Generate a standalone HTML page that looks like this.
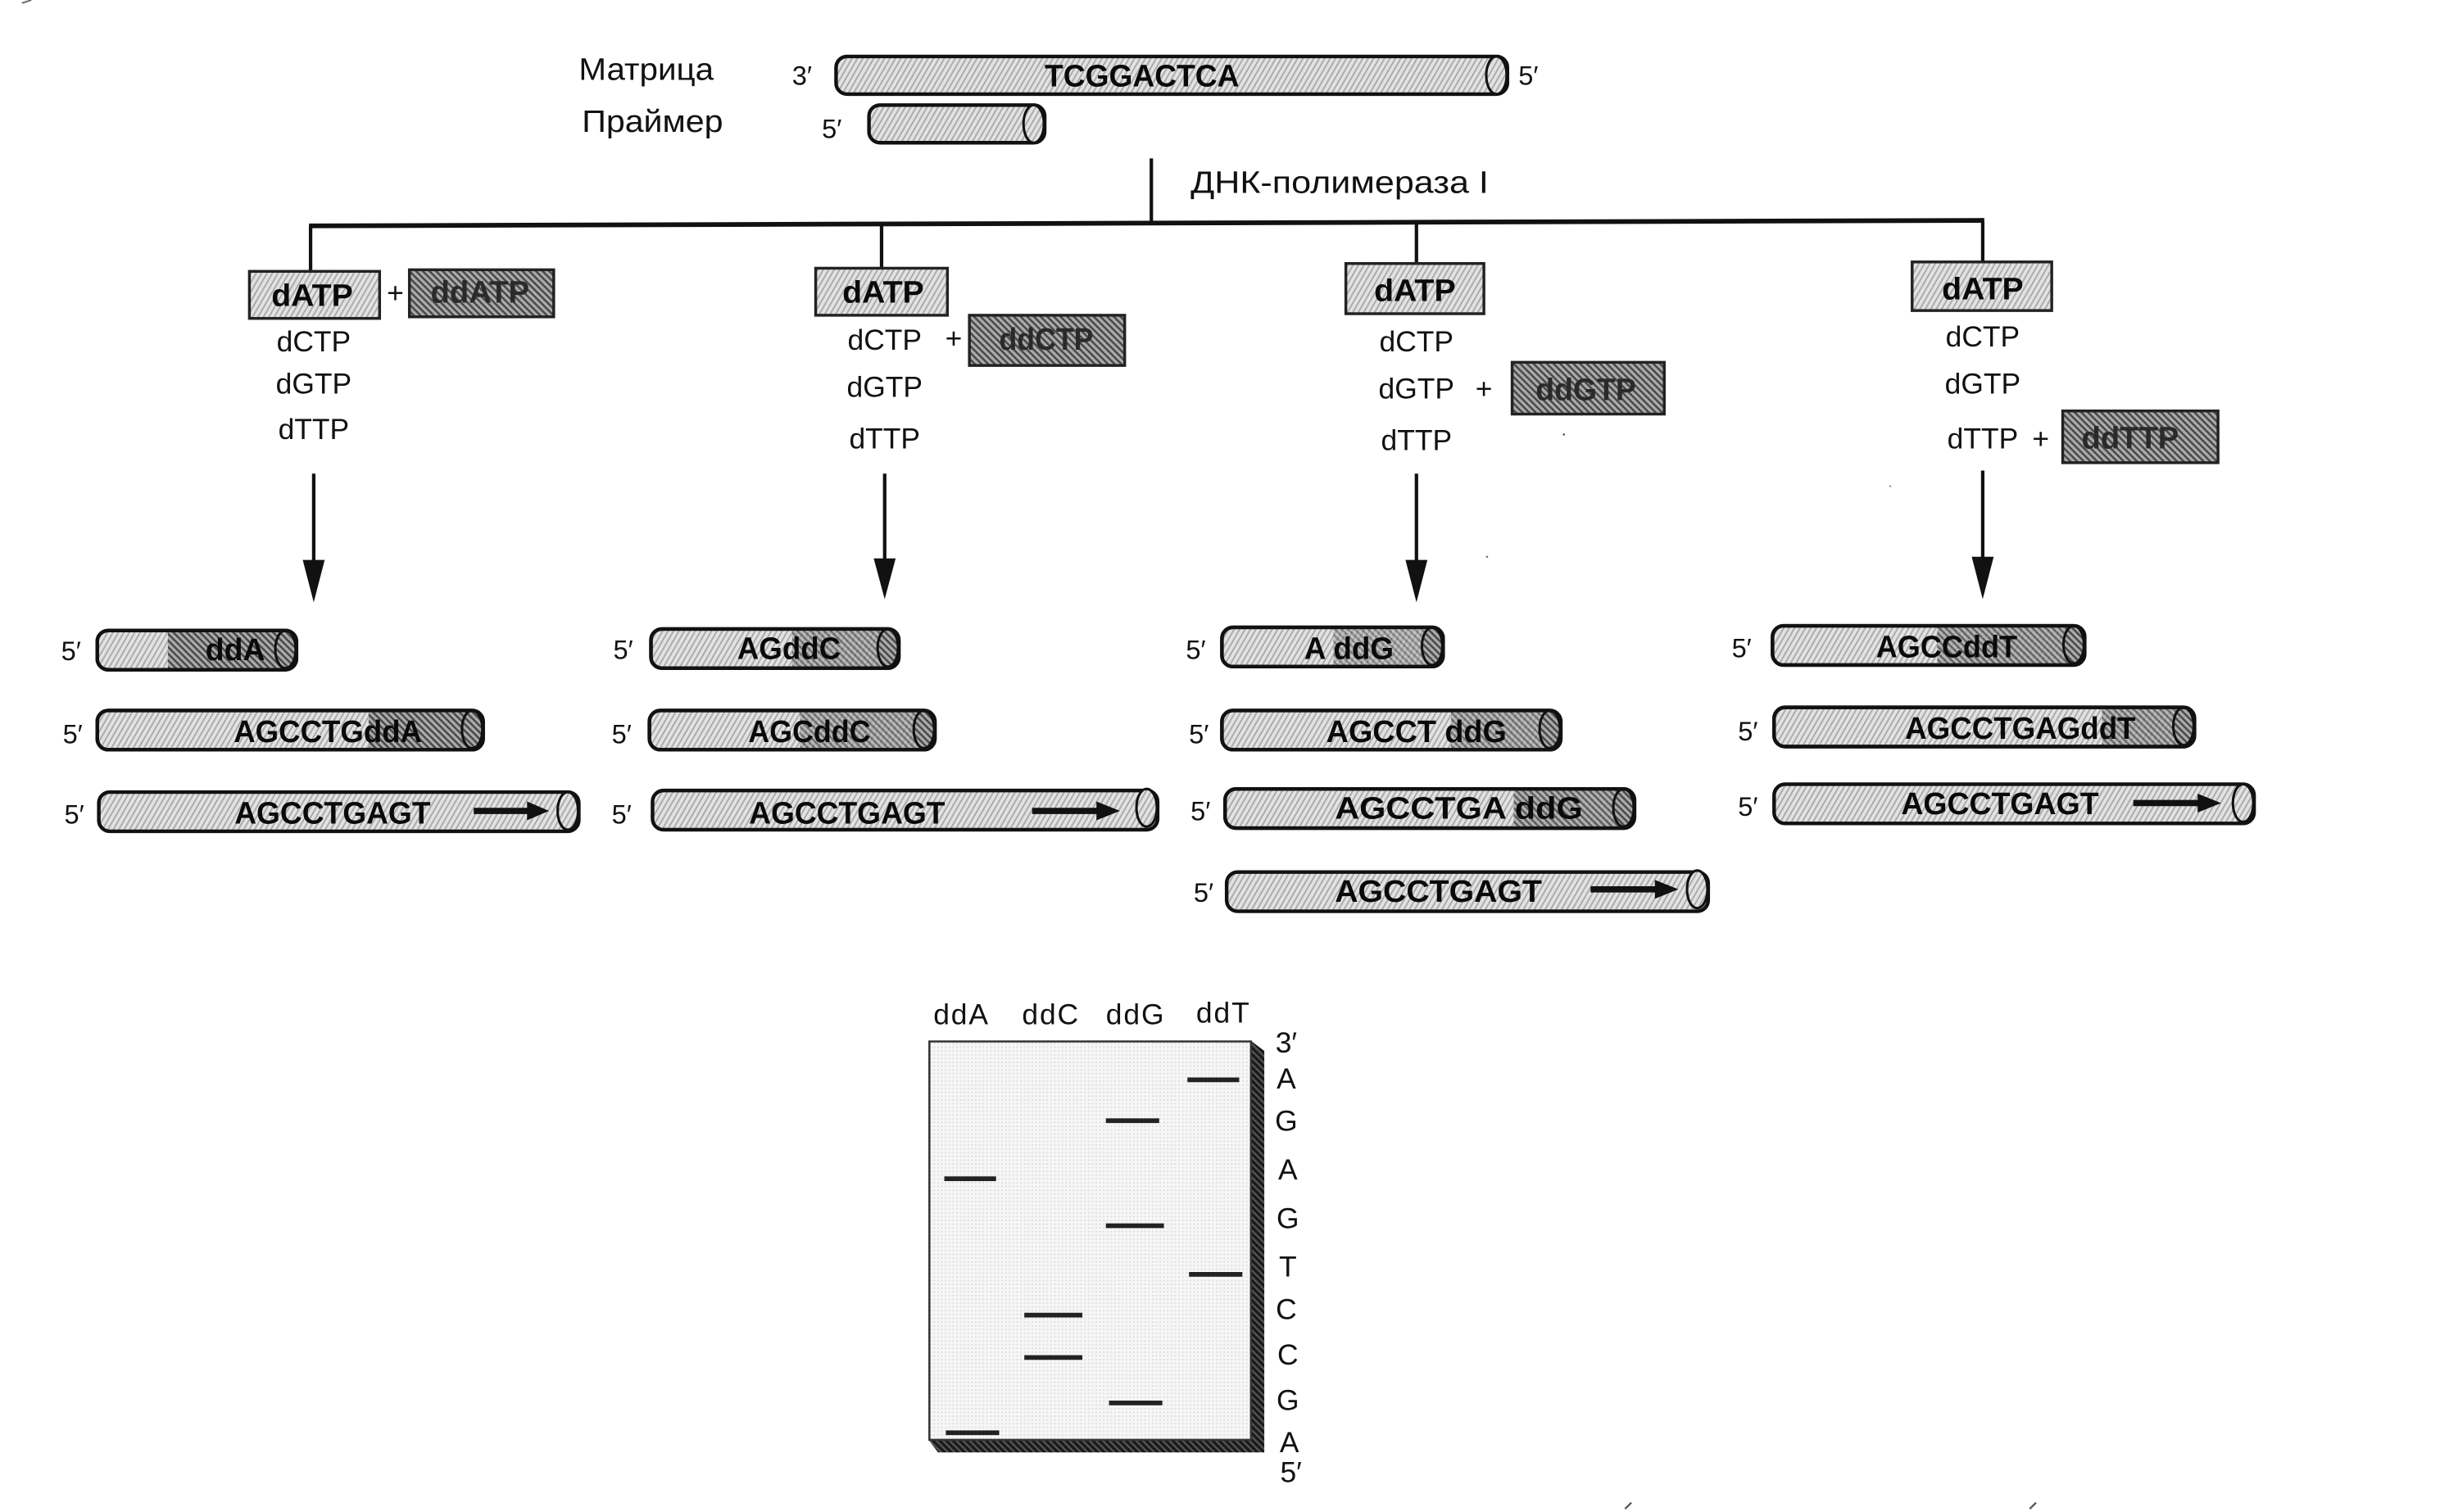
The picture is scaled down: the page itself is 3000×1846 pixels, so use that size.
<!DOCTYPE html>
<html><head><meta charset="utf-8"><style>
html,body{margin:0;padding:0;background:#fff}
svg{display:block;width:3000px;height:1846px}
text{font-family:"Liberation Sans",sans-serif;fill:#111}
.b{font-weight:bold;font-size:20px;text-anchor:middle;fill:#0a0a0a}
.dd{font-weight:bold;font-size:20px;text-anchor:middle;fill:#2a2a2a}
.r{font-size:18.5px;text-anchor:middle}
.l{font-size:20px}
.p{font-size:17px}
.c{fill:url(#lt);stroke:#111;stroke-width:2.3;transform:translateY(-1px)}
.e{fill:url(#lt);stroke:#111;stroke-width:1.6;transform:translateY(-1px)}
.ed{fill:url(#dk);stroke:#111;stroke-width:1.6;transform:translateY(-1px)}
.d{fill:url(#dk);transform:translateY(-1px)}
.o{fill:none;stroke:#111;stroke-width:2.3;transform:translateY(-1px)}
.ln{stroke:#111;stroke-width:2.2;fill:none}
.bx{fill:url(#lt);stroke:#222;stroke-width:1.8}
.dx{fill:url(#dk);stroke:#222;stroke-width:1.8}
.bd{stroke:#222;stroke-width:3}
</style></head><body>
<svg viewBox="0 0 1567 964" xmlns="http://www.w3.org/2000/svg" preserveAspectRatio="none">
<defs>
<pattern id="lt" width="3" height="3" patternUnits="userSpaceOnUse" patternTransform="rotate(-60)"><rect width="3" height="3" fill="#e2e2e2"/><rect width="3" height="1" fill="#aaa"/></pattern>
<pattern id="dk" width="3" height="3" patternUnits="userSpaceOnUse" patternTransform="rotate(45)"><rect width="3" height="3" fill="#aaa"/><rect width="3" height="1.3" fill="#484848"/></pattern>
<pattern id="gel" width="2.4" height="2.4" patternUnits="userSpaceOnUse"><rect width="2.4" height="2.4" fill="#f6f6f6"/><rect width=".9" height=".9" fill="#d8d8d8"/></pattern>
<pattern id="sh" width="3" height="3" patternUnits="userSpaceOnUse" patternTransform="rotate(45)"><rect width="3" height="3" fill="#555"/><rect width="3" height="1.8" fill="#1a1a1a"/></pattern>
</defs>
<rect width="1567" height="964" fill="#fff"/>
<line x1="14" y1="2" x2="20" y2="0" stroke="#666" stroke-width="1"/>
<circle cx="997" cy="277" r=".7" fill="#555"/><circle cx="948" cy="355" r=".7" fill="#777"/><circle cx="1205" cy="310" r=".6" fill="#888"/>

<!-- top -->
<text class="l" x="369" y="51" textLength="86" lengthAdjust="spacingAndGlyphs">Матрица</text>
<text class="l" x="371" y="84" textLength="90" lengthAdjust="spacingAndGlyphs">Праймер</text>
<text class="p" x="505" y="54">3′</text>
<rect class="c" x="533" y="37" width="428" height="24" rx="7"/><ellipse class="e" cx="954" cy="49" rx="6.5" ry="12"/>
<text class="b" x="728" y="55" textLength="124" lengthAdjust="spacingAndGlyphs">TCGGACTCA</text>
<text class="p" x="968" y="54">5′</text>
<text class="p" x="524" y="88">5′</text>
<rect class="c" x="554" y="68" width="112" height="24" rx="7"/><ellipse class="e" cx="659" cy="80" rx="6.5" ry="12"/>

<line class="ln" x1="734" y1="101" x2="734" y2="143"/>
<text class="l" x="759" y="123" textLength="190" lengthAdjust="spacingAndGlyphs">ДНК-полимераза I</text>
<line class="ln" style="stroke-width:3" x1="197" y1="144" x2="1265" y2="140.5"/>
<line class="ln" x1="198" y1="144" x2="198" y2="173"/>
<line class="ln" x1="562" y1="143" x2="562" y2="171"/>
<line class="ln" x1="903" y1="142" x2="903" y2="168"/>
<line class="ln" x1="1264" y1="141" x2="1264" y2="167"/>

<!-- boxes col 1 -->
<rect class="bx" x="159" y="173" width="83" height="30"/><text class="b" x="199" y="195" textLength="52" lengthAdjust="spacingAndGlyphs">dATP</text>
<text class="r" x="252" y="193">+</text>
<rect class="dx" x="261" y="172" width="92" height="30"/><text class="dd" x="306" y="193" textLength="63" lengthAdjust="spacingAndGlyphs">ddATP</text>
<text class="r" x="200" y="224">dCTP</text><text class="r" x="200" y="251">dGTP</text><text class="r" x="200" y="280">dTTP</text>

<!-- col 2 -->
<rect class="bx" x="520" y="171" width="84" height="30"/><text class="b" x="563" y="193" textLength="52" lengthAdjust="spacingAndGlyphs">dATP</text>
<text class="r" x="608" y="222">+</text>
<rect class="dx" x="618" y="201" width="99" height="32"/><text class="dd" x="667" y="223" textLength="60" lengthAdjust="spacingAndGlyphs">ddCTP</text>
<text class="r" x="564" y="223">dCTP</text><text class="r" x="564" y="253">dGTP</text><text class="r" x="564" y="286">dTTP</text>

<!-- col 3 -->
<rect class="bx" x="858" y="168" width="88" height="32"/><text class="b" x="902" y="192" textLength="52" lengthAdjust="spacingAndGlyphs">dATP</text>
<text class="r" x="946" y="254">+</text>
<rect class="dx" x="964" y="231" width="97" height="33"/><text class="dd" x="1011" y="255" textLength="64" lengthAdjust="spacingAndGlyphs">ddGTP</text>
<text class="r" x="903" y="224">dCTP</text><text class="r" x="903" y="254">dGTP</text><text class="r" x="903" y="287">dTTP</text>

<!-- col 4 -->
<rect class="bx" x="1219" y="167" width="89" height="31"/><text class="b" x="1264" y="191" textLength="52" lengthAdjust="spacingAndGlyphs">dATP</text>
<text class="r" x="1301" y="286">+</text>
<rect class="dx" x="1315" y="262" width="99" height="33"/><text class="dd" x="1358" y="286" textLength="62" lengthAdjust="spacingAndGlyphs">ddTTP</text>
<text class="r" x="1264" y="221">dCTP</text><text class="r" x="1264" y="251">dGTP</text><text class="r" x="1264" y="286">dTTP</text>

<!-- arrows -->
<line class="ln" x1="200" y1="302" x2="200" y2="362"/><polygon points="193,357 207,357 200,384" fill="#111"/>
<line class="ln" x1="564" y1="302" x2="564" y2="362"/><polygon points="557,356 571,356 564,382" fill="#111"/>
<line class="ln" x1="903" y1="302" x2="903" y2="362"/><polygon points="896,357 910,357 903,384" fill="#111"/>
<line class="ln" x1="1264" y1="300" x2="1264" y2="360"/><polygon points="1257,355 1271,355 1264,382" fill="#111"/>

<!-- column 1 strands -->
<text class="p" x="39" y="421">5′</text>
<rect class="c" x="62" y="403" width="127" height="25" rx="7"/><rect class="d" x="107" y="404" width="76" height="23"/><ellipse class="ed" cx="182" cy="415" rx="6.5" ry="12"/><rect class="o" x="62" y="403" width="127" height="25" rx="7"/>
<text class="b" x="150" y="421" textLength="38" lengthAdjust="spacingAndGlyphs">ddA</text>

<text class="p" x="40" y="474">5′</text>
<rect class="c" x="62" y="454" width="246" height="25" rx="7"/><rect class="d" x="235" y="455" width="67" height="23"/><ellipse class="ed" cx="301" cy="466" rx="6.5" ry="12"/><rect class="o" x="62" y="454" width="246" height="25" rx="7"/>
<text class="b" x="209" y="473" textLength="120" lengthAdjust="spacingAndGlyphs">AGCCTGddA</text>

<text class="p" x="41" y="525">5′</text>
<rect class="c" x="63" y="506" width="306" height="25" rx="7"/><ellipse class="e" cx="362" cy="518" rx="6.5" ry="12"/>
<text class="b" x="212" y="525" textLength="125" lengthAdjust="spacingAndGlyphs">AGCCTGAGT</text>
<line x1="302" y1="517" x2="338" y2="517" stroke="#111" stroke-width="4"/><polygon points="336,511 350,517 336,523" fill="#111"/>

<!-- column 2 strands -->
<text class="p" x="391" y="420">5′</text>
<rect class="c" x="415" y="402" width="158" height="25" rx="7"/><rect class="d" x="505" y="403" width="62" height="23" opacity=".7"/><ellipse class="ed" cx="566" cy="414" rx="6.5" ry="12"/><rect class="o" x="415" y="402" width="158" height="25" rx="7"/>
<text class="b" x="503" y="420" textLength="66" lengthAdjust="spacingAndGlyphs">AGddC</text>

<text class="p" x="390" y="474">5′</text>
<rect class="c" x="414" y="454" width="182" height="25" rx="7"/><rect class="d" x="510" y="455" width="80" height="23" opacity=".7"/><ellipse class="ed" cx="589" cy="466" rx="6.5" ry="12"/><rect class="o" x="414" y="454" width="182" height="25" rx="7"/>
<text class="b" x="516" y="473" textLength="78" lengthAdjust="spacingAndGlyphs">AGCddC</text>

<text class="p" x="390" y="525">5′</text>
<rect class="c" x="416" y="505" width="322" height="25" rx="7"/><ellipse class="e" cx="731" cy="516" rx="6.5" ry="12"/>
<text class="b" x="540" y="525" textLength="125" lengthAdjust="spacingAndGlyphs">AGCCTGAGT</text>
<line x1="658" y1="517" x2="701" y2="517" stroke="#111" stroke-width="4"/><polygon points="699,511 714,517 699,523" fill="#111"/>

<!-- column 3 strands -->
<text class="p" x="756" y="420">5′</text>
<rect class="c" x="779" y="401" width="141" height="25" rx="7"/><rect class="d" x="850" y="402" width="64" height="23" opacity=".55"/><ellipse class="ed" cx="913" cy="413" rx="6.5" ry="12"/><rect class="o" x="779" y="401" width="141" height="25" rx="7"/>
<text class="b" x="860" y="420" textLength="57" lengthAdjust="spacingAndGlyphs">A ddG</text>

<text class="p" x="758" y="474">5′</text>
<rect class="c" x="779" y="454" width="216" height="25" rx="7"/><rect class="d" x="925" y="455" width="64" height="23" opacity=".7"/><ellipse class="ed" cx="988" cy="466" rx="6.5" ry="12"/><rect class="o" x="779" y="454" width="216" height="25" rx="7"/>
<text class="b" x="903" y="473" textLength="115" lengthAdjust="spacingAndGlyphs">AGCCT ddG</text>

<text class="p" x="759" y="523">5′</text>
<rect class="c" x="781" y="504" width="261" height="25" rx="7"/><rect class="d" x="965" y="505" width="71" height="23" opacity=".85"/><ellipse class="ed" cx="1035" cy="516" rx="6.5" ry="12"/><rect class="o" x="781" y="504" width="261" height="25" rx="7"/>
<text class="b" x="930" y="522" textLength="158" lengthAdjust="spacingAndGlyphs">AGCCTGA ddG</text>

<text class="p" x="761" y="575">5′</text>
<rect class="c" x="782" y="557" width="307" height="25" rx="7"/><ellipse class="e" cx="1082" cy="568" rx="6.5" ry="12"/>
<text class="b" x="917" y="575" textLength="132" lengthAdjust="spacingAndGlyphs">AGCCTGAGT</text>
<line x1="1014" y1="567" x2="1057" y2="567" stroke="#111" stroke-width="4"/><polygon points="1055,561 1070,567 1055,573" fill="#111"/>

<!-- column 4 strands -->
<text class="p" x="1104" y="419">5′</text>
<rect class="c" x="1130" y="400" width="199" height="25" rx="7"/><rect class="d" x="1235" y="401" width="88" height="23" opacity=".8"/><ellipse class="ed" cx="1322" cy="412" rx="6.5" ry="12"/><rect class="o" x="1130" y="400" width="199" height="25" rx="7"/>
<text class="b" x="1241" y="419" textLength="90" lengthAdjust="spacingAndGlyphs">AGCCddT</text>

<text class="p" x="1108" y="472">5′</text>
<rect class="c" x="1131" y="452" width="268" height="25" rx="7"/><rect class="d" x="1340" y="453" width="53" height="23" opacity=".75"/><ellipse class="ed" cx="1392" cy="464" rx="6.5" ry="12"/><rect class="o" x="1131" y="452" width="268" height="25" rx="7"/>
<text class="b" x="1288" y="471" textLength="147" lengthAdjust="spacingAndGlyphs">AGCCTGAGddT</text>

<text class="p" x="1108" y="520">5′</text>
<rect class="c" x="1131" y="501" width="306" height="25" rx="7"/><ellipse class="e" cx="1430" cy="513" rx="6.5" ry="12"/>
<text class="b" x="1275" y="519" textLength="126" lengthAdjust="spacingAndGlyphs">AGCCTGAGT</text>
<line x1="1360" y1="512" x2="1403" y2="512" stroke="#111" stroke-width="4"/><polygon points="1401,506 1416,512 1401,518" fill="#111"/>

<!-- gel -->
<polygon points="592,664 798,664 806,670 806,926 598,926 592,918" fill="url(#sh)"/>
<rect x="592.5" y="664" width="205" height="254" fill="url(#gel)" stroke="#333" stroke-width="1.3"/>
<g style="letter-spacing:1px">
<text class="r" x="613" y="653">ddA</text><text class="r" x="670" y="653">ddC</text><text class="r" x="724" y="653">ddG</text><text class="r" x="780" y="652">ddT</text>
</g>
<line class="bd" x1="757" y1="688.5" x2="790" y2="688.5"/>
<line class="bd" x1="705" y1="714.5" x2="739" y2="714.5"/>
<line class="bd" x1="602" y1="751.5" x2="635" y2="751.5"/>
<line class="bd" x1="705" y1="781.5" x2="742" y2="781.5"/>
<line class="bd" x1="758" y1="812.5" x2="792" y2="812.5"/>
<line class="bd" x1="653" y1="838.5" x2="690" y2="838.5"/>
<line class="bd" x1="653" y1="865.5" x2="690" y2="865.5"/>
<line class="bd" x1="707" y1="894.5" x2="741" y2="894.5"/>
<line class="bd" x1="603" y1="913.5" x2="637" y2="913.5"/>
<text class="r" x="820" y="671">3′</text>
<text class="r" x="820" y="694">A</text><text class="r" x="820" y="721">G</text><text class="r" x="821" y="752">A</text><text class="r" x="821" y="783">G</text><text class="r" x="821" y="814">T</text><text class="r" x="820" y="841">C</text><text class="r" x="821" y="870">C</text><text class="r" x="821" y="899">G</text><text class="r" x="822" y="926">A</text><text class="r" x="823" y="945">5′</text>
<line x1="1036" y1="962" x2="1040" y2="958" stroke="#555" stroke-width="1.2"/>
<line x1="1294" y1="962" x2="1298" y2="958" stroke="#555" stroke-width="1.2"/>
</svg>
</body></html>
